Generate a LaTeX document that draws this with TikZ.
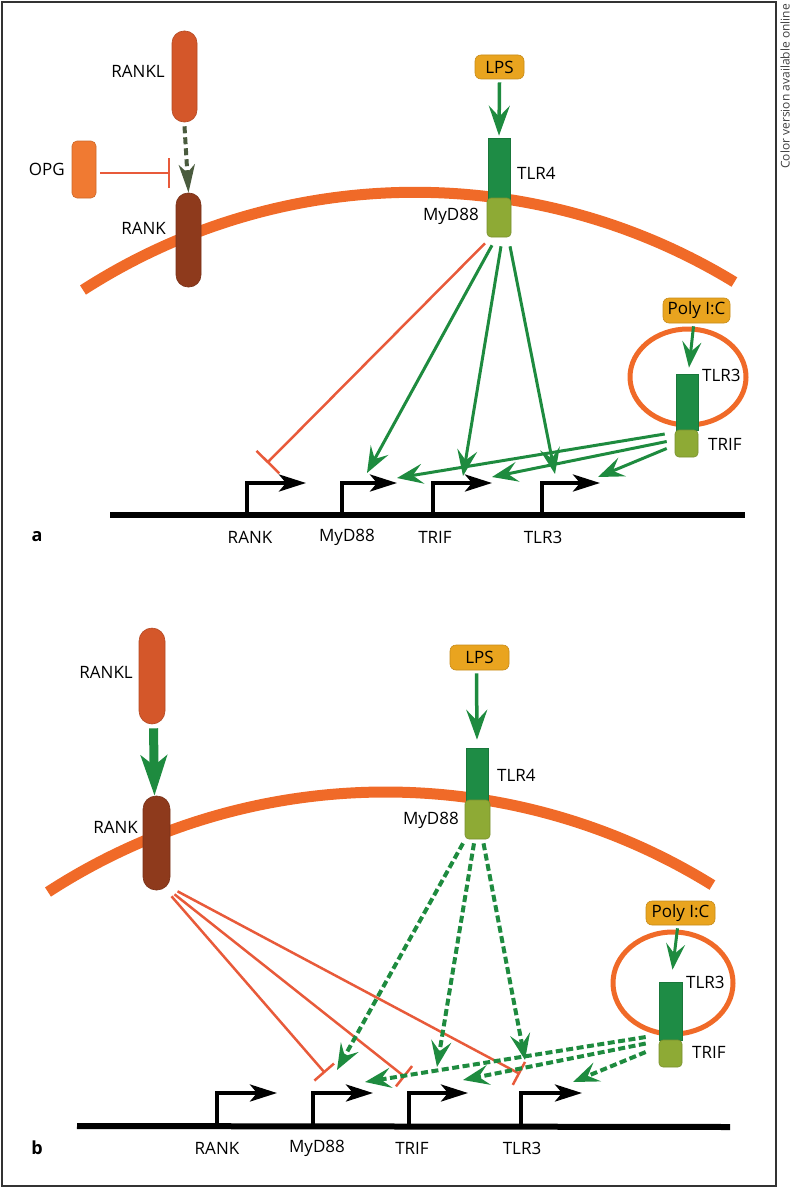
\documentclass[tikz,border=0pt]{standalone}
\usepackage{fontspec}
\setmainfont{Open Sans}
\usetikzlibrary{arrows.meta,calc,positioning}

\definecolor{ranklcol}{HTML}{D4572A}
\definecolor{rankcol}{HTML}{8E3A1C}
\definecolor{opgcol}{HTML}{F07A32}
\definecolor{memcol}{HTML}{F06A28}
\definecolor{inhcol}{HTML}{E85A3A}
\definecolor{actcol}{HTML}{1E8B3F}
\definecolor{tlrcol}{HTML}{1E8C45}
\definecolor{adcol}{HTML}{8EAA35}
\definecolor{ligcol}{HTML}{E9A41F}
\definecolor{oldcol}{HTML}{4A5B3E}

\tikzset{
  mol/.style={inner sep=0pt, draw=#1!85!black, line width=0.6pt, fill=#1},
  lbl/.style={font=\fontsize{17}{20}\selectfont, inner sep=0pt},
  membrane/.style={line width=11pt, memcol},
  vesicle/.style={line width=5pt, memcol},
  act/.style={line width=3pt, actcol, -{Stealth[length=26pt, width=20pt, inset=10pt]}},
  dact/.style={act, line width=4pt, dash pattern=on 7pt off 3.5pt},
  inh/.style={line width=2.5pt, inhcol, -{Bar[width=#1, line width=2.5pt]}},
  inh/.default=28pt,
  promo/.style={line width=4pt, black, line join=miter, -{Stealth[length=27pt, width=17pt, inset=7pt]}},
  dna/.style={line width=6pt, black},
}

\begin{document}
\begin{tikzpicture}[x=1pt, y=-1pt]
  %%%%% START %%%%%
  \useasboundingbox (0,0) rectangle (792,1188);
  \draw[line width=1.5pt, black!80] (2,2) rectangle (776,1186);
  \node[rotate=90, anchor=east, inner sep=0pt, font=\fontsize{12}{14}\selectfont, text=black!75] (note) at (785,4) {Color version available online};

  %%%%% panel a %%%%%
  \draw[membrane] (83,290) arc[start angle=-122.8, end angle=-58.6, radius=613];
  \draw[vesicle] (688,377) ellipse [x radius=58, y radius=48];

  \node[mol=ranklcol, rounded corners=12pt, minimum width=25pt, minimum height=91pt] (rankla) at (184.5,76.5) {};
  \node[mol=rankcol, rounded corners=12pt, minimum width=25pt, minimum height=94pt] (ranka) at (188.5,240) {};
  \node[mol=opgcol, rounded corners=5pt, minimum width=24pt, minimum height=57pt] (opga) at (84,169.5) {};
  \node[mol=ligcol, rounded corners=6pt, minimum width=49pt, minimum height=24pt, lbl] (lpsa) at (499.5,67) {LPS};
  \node[mol=tlrcol, minimum width=22pt, minimum height=62pt] (tlr4a) at (499,169) {};
  \node[mol=adcol, rounded corners=4pt, minimum width=24pt, minimum height=39pt] (myd88a) at (499,217.5) {};
  \node[mol=ligcol, rounded corners=6pt, minimum width=67pt, minimum height=25pt, lbl] (polya) at (696.5,310.5) {Poly I:C};
  \node[mol=tlrcol, minimum width=22pt, minimum height=56pt] (tlr3a) at (687,402) {};
  \node[mol=adcol, rounded corners=4pt, minimum width=23pt, minimum height=27pt] (trifa) at (686.5,443.5) {};

  \node[lbl, anchor=east] (lrankla) at (165,71) {RANKL};
  \node[lbl, anchor=east] (lopga) at (65,169) {OPG};
  \node[lbl, anchor=east] (lranka) at (166,228) {RANK};
  \node[lbl, anchor=west] (ltlr4a) at (517,173) {TLR4};
  \node[lbl, anchor=east] (lmyd88a) at (479,216) {MyD88};
  \node[lbl, anchor=west] (ltlr3a) at (702,375) {TLR3};
  \node[lbl, anchor=west] (ltrifa) at (708,444) {TRIF};

  % genes
  \draw[dna] (110,515) -- (745,515);
  \draw[promo] (247,515) -- (247,483) -- (306,483);
  \draw[promo] (342,515) -- (342,483) -- (397,483);
  \draw[promo] (433,515) -- (433,483) -- (492,483);
  \draw[promo] (542,515) -- (542,483) -- (600,483);
  \node[lbl] (granka) at (250,537) {RANK};
  \node[lbl] (gmyd88a) at (347,537) {MyD88};
  \node[lbl] (gtrifa) at (435,537) {TRIF};
  \node[lbl] (gtlr3a) at (543,537) {TLR3};
  \node[lbl, font=\fontsize{18}{20}\selectfont\bfseries] (taga) at (37,537) {a};

  \coordinate (opgta) at (170,173);
  \coordinate (irank) at (267,463);
  \coordinate (amyd1) at (367,473);
  \coordinate (amyd2) at (463,476);
  \coordinate (amyd3) at (555,474);
  \coordinate (atrif1) at (397,478);
  \coordinate (atrif2) at (492,477);
  \coordinate (atrif3) at (598,477);

  \draw[oldcol, line width=4pt, dash pattern=on 7pt off 4pt, -{Stealth[length=28pt, width=16pt, inset=8pt]}] ($(rankla.south)+(0,4)$) -- (ranka.north);
  \draw[inh=30pt] ($(opga.east)+(4,3.5)$) -- (opgta);
  \draw[act, line width=3.5pt, -{Stealth[length=30pt, width=21pt, inset=11pt]}] ($(lpsa.south)+(0,3)$) -- ($(tlr4a.north)+(0,-2)$);
  \draw[act, line width=3pt, -{Stealth[length=26pt, width=19pt, inset=10pt]}] ($(polya.south)+(-3,3)$) -- ($(tlr3a.north)+(2,-6)$);

  \draw[inh=32pt] ($(myd88a.south)+(-14,6)$) -- (irank);
  \draw[act] ($(myd88a.south)+(-7,8)$) -- (amyd1);
  \draw[act] ($(myd88a.south)+(2,9)$) -- (amyd2);
  \draw[act] ($(myd88a.south)+(11,9)$) -- (amyd3);
  \draw[act] ($(trifa.west)+(-10,-9.5)$) -- (atrif1);
  \draw[act] ($(trifa.west)+(-8,-2)$) -- (atrif2);
  \draw[act] ($(trifa.west)+(-8,5)$) -- (atrif3);

  %%%%% panel b %%%%%
  \draw[membrane] (48,892) arc[start angle=-123, end angle=-58.2, radius=620];
  \draw[vesicle] (673,983) ellipse [x radius=60, y radius=51];

  \node[mol=ranklcol, rounded corners=13pt, minimum width=26pt, minimum height=96pt] (ranklb) at (152,676) {};
  \node[mol=rankcol, rounded corners=13pt, minimum width=27pt, minimum height=94pt] (rankb) at (156.5,843) {};
  \node[mol=ligcol, rounded corners=6pt, minimum width=59pt, minimum height=25pt, lbl] (lpsb) at (479.5,657.5) {LPS};
  \node[mol=tlrcol, minimum width=22pt, minimum height=52pt] (tlr4b) at (477,774) {};
  \node[mol=adcol, rounded corners=4pt, minimum width=25pt, minimum height=39pt] (myd88b) at (477.5,819.5) {};
  \node[mol=ligcol, rounded corners=6pt, minimum width=69pt, minimum height=24pt, lbl] (polyb) at (680.5,913) {Poly I:C};
  \node[mol=tlrcol, minimum width=23pt, minimum height=58pt] (tlr3b) at (670.5,1011) {};
  \node[mol=adcol, rounded corners=4pt, minimum width=23pt, minimum height=27pt] (trifb) at (670.5,1053.5) {};

  \node[lbl, anchor=east] (lranklb) at (133,672) {RANKL};
  \node[lbl, anchor=east] (lrankb) at (138,827) {RANK};
  \node[lbl, anchor=west] (ltlr4b) at (497,775) {TLR4};
  \node[lbl, anchor=east] (lmyd88b) at (459,820) {MyD88};
  \node[lbl, anchor=west] (ltlr3b) at (686,982) {TLR3};
  \node[lbl, anchor=west] (ltrifb) at (692,1052) {TRIF};

  % genes
  \draw[dna] (77,1126) -- (730,1127);
  \draw[promo] (217,1126) -- (217,1093) -- (277,1093);
  \draw[promo] (313,1126) -- (313,1093) -- (373,1093);
  \draw[promo] (409,1126) -- (409,1093) -- (468,1093);
  \draw[promo] (521,1126) -- (521,1093) -- (582,1093);
  \node[lbl] (grankb) at (217,1148) {RANK};
  \node[lbl] (gmyd88b) at (317,1148) {MyD88};
  \node[lbl] (gtrifb) at (412,1148) {TRIF};
  \node[lbl] (gtlr3b) at (522,1148) {TLR3};
  \node[lbl, font=\fontsize{18}{20}\selectfont\bfseries] (tagb) at (37,1148) {b};

  \coordinate (imyd) at (325,1073);
  \coordinate (itrif) at (405,1077);
  \coordinate (itlr3) at (520,1074);
  \coordinate (bmyd1) at (337,1070);
  \coordinate (bmyd2) at (437,1067);
  \coordinate (bmyd3) at (525,1060);
  \coordinate (btrif1) at (365,1082);
  \coordinate (btrif2) at (463,1080);
  \coordinate (btrif3) at (573,1082);

  \draw[actcol, line width=9pt, -{Stealth[length=40pt, width=26pt, inset=10pt]}] ($(ranklb.south)+(1.5,4)$) -- ($(rankb.north)+(-2,0)$);
  \draw[act, line width=3.5pt, -{Stealth[length=30pt, width=21pt, inset=11pt]}] ($(lpsb.south)+(-3,3)$) -- ($(tlr4b.north)+(0,-8)$);
  \draw[act, line width=3pt, -{Stealth[length=26pt, width=19pt, inset=10pt]}] ($(polyb.south)+(-3,3)$) -- ($(tlr3b.north)+(2,-12)$);

  \draw[inh=26pt] ($(rankb.south)+(15,6)$) -- (imyd);
  \draw[inh=26pt] ($(rankb.south)+(18,4)$) -- (itrif);
  \draw[inh=26pt] ($(rankb.south)+(21,1)$) -- (itlr3);
  \draw[dact] ($(myd88b.south)+(-14.5,4)$) -- (bmyd1);
  \draw[dact] ($(myd88b.south)+(-3.5,4)$) -- (bmyd2);
  \draw[dact] ($(myd88b.south)+(6,4)$) -- (bmyd3);
  \draw[dact] ($(trifb.west)+(-13,-16.5)$) -- (btrif1);
  \draw[dact] ($(trifb.west)+(-13,-10)$) -- (btrif2);
  \draw[dact] ($(trifb.west)+(-13,-1.5)$) -- (btrif3);
  %%%%% END %%%%%
\end{tikzpicture}
\end{document}
